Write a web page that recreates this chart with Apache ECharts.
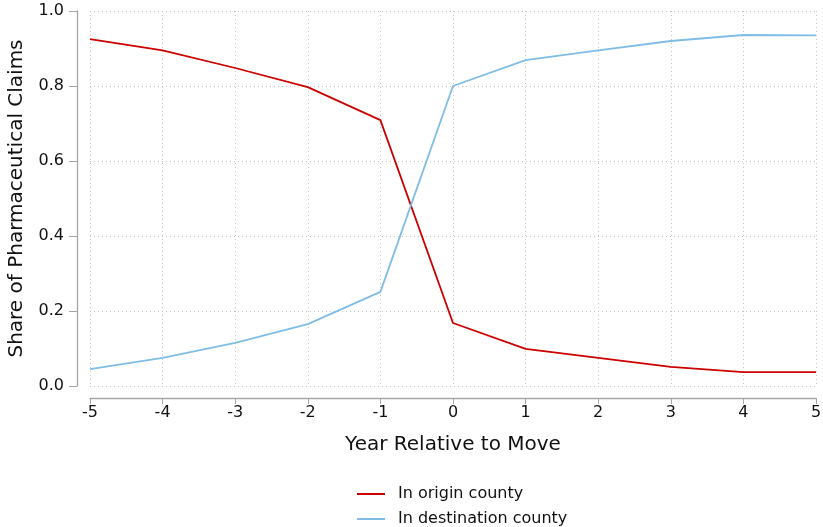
<!DOCTYPE html>
<html>
<head>
<meta charset="utf-8">
<script src="https://cdn.jsdelivr.net/npm/echarts@6/dist/echarts.min.js"></script>
<style>
  html, body { margin: 0; padding: 0; background: #fff; }
  #chart { width: 823px; height: 527px; }
</style>
</head>
<body>
<div id="chart"></div>
<script>
// year relative to move
var years = [-5, -4, -3, -2, -1, 0, 1, 2, 3, 4, 5];
// share of claims filled in origin county
var originShare = [0.925, 0.895, 0.848, 0.797, 0.709, 0.168, 0.099, 0.075, 0.051, 0.037, 0.037];
// share of claims filled in destination county
var destShare = [0.045, 0.075, 0.115, 0.165, 0.251, 0.800, 0.869, 0.895, 0.920, 0.936, 0.935];

var chart = echarts.init(document.getElementById('chart'));

var font = 'DejaVu Sans';
var textColor = '#111';
var axisGray = '#a6a6a6';
var gridLine = { show: true, lineStyle: { color: '#c4c4c4', width: 1, type: [1, 3] } };

// one legend per row, stacked like the original
function legendRow(name, top) {
  return {
    left: 352,
    top: top,
    itemWidth: 28,
    itemHeight: 2,
    icon: 'rect',
    textStyle: { fontFamily: font, fontSize: 16, color: textColor, padding: [0, 0, 0, 8] },
    data: [name]
  };
}

var option = {
  animation: false,
  textStyle: { fontFamily: font },
  grid: { left: 90, right: 7, top: 11, bottom: 141, outerBoundsMode: 'none', containLabel: false },
  legend: [
    legendRow('In origin county', 481),
    legendRow('In destination county', 506)
  ],
  xAxis: {
    type: 'value',
    min: -5,
    max: 5,
    interval: 1,
    offset: 12,
    name: 'Year Relative to Move',
    nameLocation: 'middle',
    nameGap: 37,
    nameTextStyle: { fontSize: 20, color: textColor, fontFamily: font },
    axisLine: { show: true, onZero: false, lineStyle: { color: axisGray, width: 1.3 } },
    axisTick: { show: true, length: 6, lineStyle: { color: axisGray } },
    axisLabel: { fontSize: 16, color: textColor, margin: 7, fontFamily: font },
    splitLine: gridLine
  },
  yAxis: {
    type: 'value',
    min: 0,
    max: 1,
    interval: 0.2,
    offset: 13,
    name: 'Share of Pharmaceutical Claims',
    nameLocation: 'middle',
    nameGap: 50,
    nameTextStyle: { fontSize: 20, color: textColor, fontFamily: font },
    axisLine: { show: true, onZero: false, lineStyle: { color: axisGray, width: 1.3 } },
    axisTick: { show: true, length: 8, lineStyle: { color: axisGray } },
    axisLabel: {
      fontSize: 16, color: textColor, margin: 13, fontFamily: font,
      formatter: function (v) { return v.toFixed(1); }
    },
    splitLine: gridLine
  },
  series: [
    {
      name: 'In origin county',
      type: 'line',
      data: years.map(function (x, i) { return [x, originShare[i]]; }),
      symbol: 'none',
      lineStyle: { color: '#cc0000', width: 1.8 },
      itemStyle: { color: '#cc0000' }
    },
    {
      name: 'In destination county',
      type: 'line',
      data: years.map(function (x, i) { return [x, destShare[i]]; }),
      symbol: 'none',
      lineStyle: { color: '#7fbde6', width: 1.8 },
      itemStyle: { color: '#7fbde6' }
    }
  ]
};

chart.setOption(option);
</script>
</body>
</html>
